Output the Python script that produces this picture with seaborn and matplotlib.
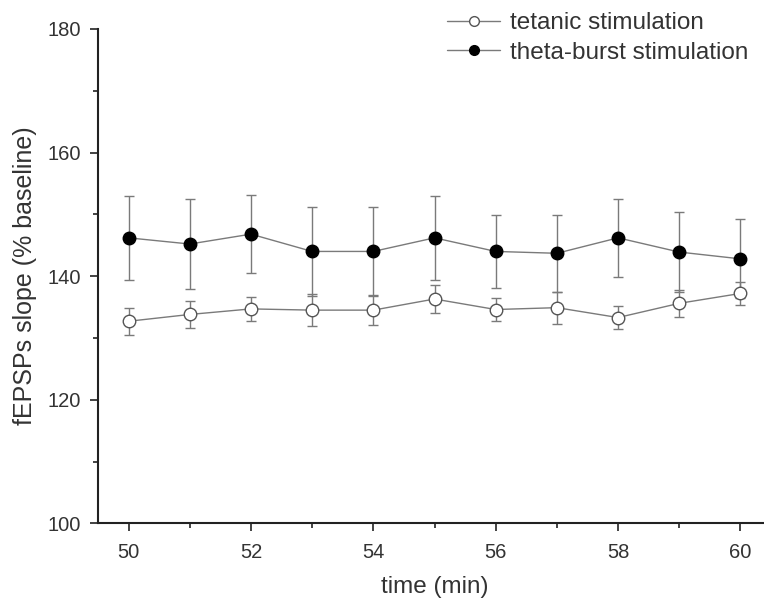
import numpy as np
import pandas as pd
import matplotlib
matplotlib.use("Agg")
import matplotlib.pyplot as plt
import seaborn as sns
from matplotlib.ticker import MultipleLocator

time_min = [50, 51, 52, 53, 54, 55, 56, 57, 58, 59, 60]
tetanic_mean = [132.7, 133.8, 134.7, 134.5, 134.5, 136.3, 134.6, 134.9, 133.3, 135.6, 137.2]
tetanic_err = [2.2, 2.2, 2.0, 2.6, 2.4, 2.3, 1.8, 2.6, 1.9, 2.2, 1.9]
theta_mean = [146.2, 145.2, 146.8, 144.0, 144.0, 146.2, 144.0, 143.7, 146.2, 143.9, 142.8]
theta_err = [6.8, 7.3, 6.3, 7.2, 7.2, 6.8, 5.9, 6.2, 6.3, 6.5, 6.4]
series_names = ["tetanic stimulation", "theta-burst stimulation"]

sns.set_style("ticks")
plt.rcParams['font.family'] = ['Liberation Sans', 'DejaVu Sans']

fig = plt.figure(figsize=(7.64, 6.0), dpi=100)
ax = fig.add_axes([98/764, 1 - 523.3/600, (771 - 98)/764, (523.3 - 29)/600])

df = pd.DataFrame({
    "time": time_min * 2,
    "value": tetanic_mean + theta_mean,
    "err": tetanic_err + theta_err,
    "group": [series_names[0]] * len(time_min) + [series_names[1]] * len(time_min),
})

line_col = "#7a7a7a"
text_col = "#333333"

for name, face in zip(series_names, ["white", "black"]):
    sub = df[df["group"] == name]
    ax.errorbar(sub["time"], sub["value"], yerr=sub["err"], fmt="none",
                ecolor=line_col, elinewidth=1.0, capsize=3.5, capthick=1.0, zorder=2)
    sns.lineplot(x="time", y="value", data=sub, ax=ax, color=line_col, linewidth=1.0,
                 marker="o", markersize=9, markerfacecolor=face,
                 markeredgecolor="black" if face == "black" else "#555555",
                 markeredgewidth=1.0, label=name, zorder=3)

ax.set_xlim(49.5, 60.5)
ax.set_ylim(100, 180)
ax.xaxis.set_major_locator(MultipleLocator(2))
ax.xaxis.set_minor_locator(MultipleLocator(1))
ax.yaxis.set_major_locator(MultipleLocator(20))
ax.yaxis.set_minor_locator(MultipleLocator(10))
ax.tick_params(which="major", length=6, width=1.2, colors="#222222", labelsize=14.5,
               labelcolor=text_col, direction="out")
ax.tick_params(axis="x", which="major", pad=8)
ax.tick_params(axis="y", which="major", pad=6)
ax.tick_params(which="minor", length=3.5, width=1.2, colors="#222222", direction="out")
for s in ["top", "right"]:
    ax.spines[s].set_visible(False)
for s in ["left", "bottom"]:
    ax.spines[s].set_linewidth(1.5)
    ax.spines[s].set_color("#222222")

ax.set_xlabel("time (min)", fontsize=17.5, color=text_col, labelpad=10)
ax.set_ylabel("fEPSPs slope (% baseline)", fontsize=18, color=text_col, labelpad=8)

leg = ax.legend(loc="upper left", bbox_to_anchor=(447/764, 1 - 12/600),
                bbox_transform=fig.transFigure, frameon=False, fontsize=17.5,
                handlelength=2.2, handletextpad=0.4, labelspacing=0.32,
                borderaxespad=0, borderpad=0)
for t in leg.get_texts():
    t.set_color(text_col)
for h in leg.legend_handles:
    h.set_markersize(7)

fig.savefig("out.png", dpi=100)
